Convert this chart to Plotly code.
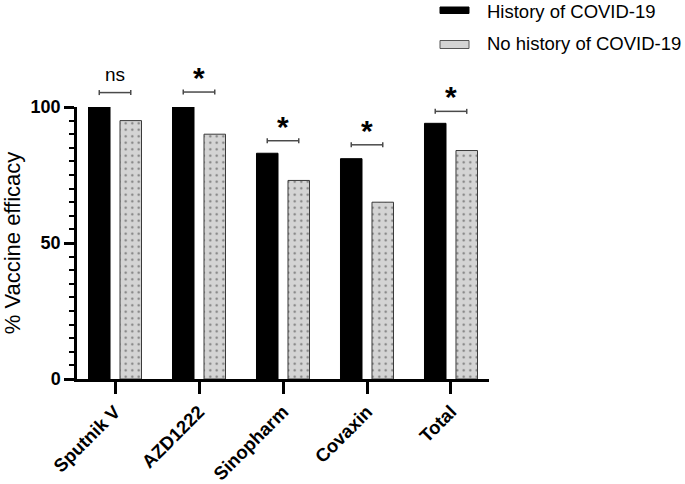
import plotly.graph_objects as go

categories = ["Sputnik V", "AZD1222", "Sinopharm", "Covaxin", "Total"]
history = [100, 100, 83, 81, 94]
no_history = [95, 90, 73, 65, 84]
sig_labels = ["ns", "*", "*", "*", "*"]
bracket_heights = [105.3, 105.5, 87.6, 86.1, 98.4]
series_names = ["History of COVID-19", "No history of COVID-19"]
y_ticks = [0, 50, 100]

YMAX = 100
FONT = "Liberation Sans, Arial, sans-serif"
W, H = 685, 484
ML, MR, MT, MB = 77, 196, 107, 105
PH = H - MT - MB
BAR_OFF = 0.1875

fig = go.Figure()
fig.add_trace(go.Bar(
    x=categories, y=history, name=series_names[0],
    marker=dict(color="#000000", line=dict(color="#000000", width=1)),
    offsetgroup="a", showlegend=False,
))
fig.add_trace(go.Bar(
    x=categories, y=no_history, name=series_names[1],
    marker=dict(color="#d4d4d4", line=dict(color="#3a3a3a", width=1),
                pattern=dict(shape=".", bgcolor="#d4d4d4", fgcolor="#222222",
                             size=6.5, solidity=0.1)),
    offsetgroup="b", showlegend=False,
))

shapes = []
annotations = []
for i, (lab, bh) in enumerate(zip(sig_labels, bracket_heights)):
    yp = bh / YMAX
    cap = 2.5 / PH
    x0, x1 = i - BAR_OFF, i + BAR_OFF
    col = "#4a4a4a"
    shapes.append(dict(type="line", xref="x", yref="paper", x0=x0, x1=x1, y0=yp, y1=yp,
                       line=dict(color=col, width=1.5)))
    for xx in (x0, x1):
        shapes.append(dict(type="line", xref="x", yref="paper", x0=xx, x1=xx,
                           y0=yp - cap, y1=yp + cap, line=dict(color=col, width=1.5)))
    if lab == "ns":
        annotations.append(dict(x=i, y=yp, xref="x", yref="paper", text=lab, showarrow=False,
                                yanchor="bottom", yshift=6,
                                font=dict(family=FONT, size=19, color="#000")))
    else:
        annotations.append(dict(x=i, y=yp, xref="x", yref="paper", text="<b>*</b>", showarrow=False,
                                yanchor="bottom", yshift=-4,
                                font=dict(family=FONT, size=30, color="#000")))

# manual legend (positions in pixels)
def px_to_paper_x(px):
    return (px - ML) / (W - ML - MR)

def px_to_paper_y(py):
    return (H - MB - py) / PH

shapes.append(dict(type="rect", xref="paper", yref="paper",
                   x0=px_to_paper_x(440), x1=px_to_paper_x(469),
                   y0=px_to_paper_y(13.5), y1=px_to_paper_y(7),
                   fillcolor="#000", line=dict(color="#000", width=1)))
shapes.append(dict(type="rect", xref="paper", yref="paper",
                   x0=px_to_paper_x(440), x1=px_to_paper_x(469),
                   y0=px_to_paper_y(48.5), y1=px_to_paper_y(40.5),
                   fillcolor="#d4d4d4", line=dict(color="#555", width=1)))
for k, yy in enumerate([11.5, 44]):
    annotations.append(dict(x=px_to_paper_x(485), y=px_to_paper_y(yy), xref="paper", yref="paper",
                            text=series_names[k], showarrow=False, xanchor="left", yanchor="middle",
                            font=dict(family=FONT, size=18.5, color="#000")))

fig.update_layout(
    width=W, height=H,
    margin=dict(l=ML, r=MR, t=MT, b=MB, autoexpand=False),
    plot_bgcolor="white", paper_bgcolor="white",
    barmode="group", bargap=0.25, bargroupgap=0.317,
    shapes=shapes, annotations=annotations,
    font=dict(family=FONT, color="#000"),
)
fig.update_xaxes(
    type="category", range=[-0.4525, len(categories) - 1 + 0.4525],
    showline=True, linecolor="#000", linewidth=2.5,
    ticks="outside", ticklen=12, tickwidth=2.5, tickcolor="#000",
    tickangle=-45, tickfont=dict(family=FONT, size=18.5, color="#000", weight="bold"),
    showgrid=False, zeroline=False, automargin=False,
)
fig.update_yaxes(
    range=[0, YMAX], tickvals=y_ticks,
    showline=True, linecolor="#000", linewidth=2.5,
    ticks="outside", ticklen=10, tickwidth=2.5, tickcolor="#000",
    minor=dict(dtick=5, ticks="outside", ticklen=5, tickwidth=2, tickcolor="#000", showgrid=False),
    tickfont=dict(family=FONT, size=18, color="#000", weight="bold"),
    title=dict(text="% Vaccine efficacy", font=dict(family=FONT, size=22, color="#000"), standoff=19),
    showgrid=False, zeroline=False, automargin=False,
)

fig.write_html("out.html", config={"displayModeBar": False},
               post_script="document.body.style.margin='0';")
